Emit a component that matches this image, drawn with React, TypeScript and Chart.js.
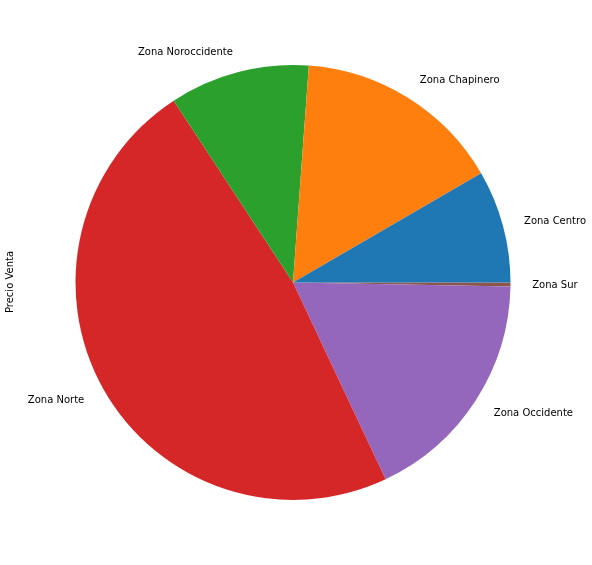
import React, { useEffect, useRef } from "react";
import { Chart, registerables } from "chart.js";

Chart.register(...registerables);

// Matplotlib order (counter-clockwise from east)
const categories = ["Zona Centro", "Zona Chapinero", "Zona Noroccidente", "Zona Norte", "Zona Occidente", "Zona Sur"];
const values = [8.37, 15.47, 10.4, 47.76, 17.7, 0.3];
const colors = ["#1f77b4", "#ff7f0e", "#2ca02c", "#d62728", "#9467bd", "#8c564b"];
const yLabel = "Precio Venta";

const FONT = "10px 'DejaVu Sans'";

const labelPlugin = {
  id: "mplLabels",
  afterDraw(chart: any) {
    const ctx = chart.ctx;
    const meta = chart.getDatasetMeta(0);
    const labels = chart.data.labels as string[];
    ctx.save();
    ctx.font = FONT;
    ctx.fillStyle = "#000";
    ctx.textBaseline = "middle";
    meta.data.forEach((arc: any, i: number) => {
      const p = arc.getProps(["x", "y", "startAngle", "endAngle", "outerRadius"], true);
      const mid = (p.startAngle + p.endAngle) / 2;
      const r = p.outerRadius * 1.1;
      const x = p.x + Math.cos(mid) * r;
      const y = p.y + Math.sin(mid) * r + 1;
      ctx.textAlign = Math.cos(mid) >= 0 ? "left" : "right";
      ctx.fillText(labels[i], x, y);
    });
    // y-axis label
    ctx.translate(10, 282);
    ctx.rotate(-Math.PI / 2);
    ctx.textAlign = "center";
    ctx.fillText(yLabel, 0, 0);
    ctx.restore();
  },
};

export default function App() {
  const ref = useRef<HTMLCanvasElement>(null);
  useEffect(() => {
    if (!ref.current) return;
    // Chart.js draws clockwise; reverse to emulate matplotlib's counter-clockwise order
    const labs = [...categories].reverse();
    const vals = [...values].reverse();
    const cols = [...colors].reverse();
    const chart = new Chart(ref.current, {
      type: "pie",
      data: {
        labels: labs,
        datasets: [
          {
            data: vals,
            backgroundColor: cols,
            borderWidth: 0,
            hoverOffset: 0,
          },
        ],
      },
      options: {
        animation: false,
        responsive: false,
        rotation: 90,
        layout: { padding: { left: 75.5, right: 81.5, top: 65, bottom: 65 } },
        plugins: {
          legend: { display: false },
          tooltip: { enabled: false },
        },
      },
      plugins: [labelPlugin],
    });
    return () => chart.destroy();
  }, []);
  return (
    <div style={{ position: "absolute", left: 0, top: 0, width: 592, height: 565, background: "#fff" }}>
      <canvas ref={ref} width={592} height={565} style={{ width: 592, height: 565 }} />
    </div>
  );
}
